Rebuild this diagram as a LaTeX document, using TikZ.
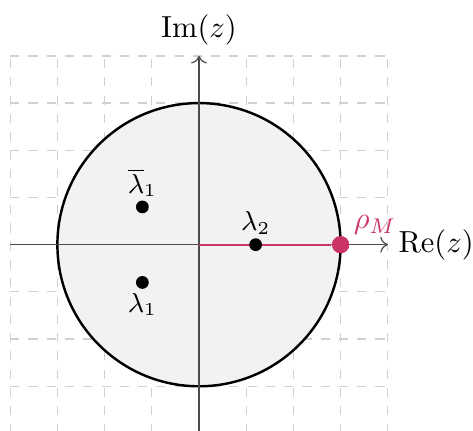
\documentclass[tikz,border=0pt]{standalone}
\usepackage{amsmath}
\usepackage{tikz}
\usetikzlibrary{arrows.meta,positioning}
\definecolor{rhored}{RGB}{204,51,102}

\begin{document}
\begin{tikzpicture}[x=0.545cm,y=0.545cm,
  gridline/.style={draw=black!18,dashed,thin},
  axis/.style={->,draw=black!70},
  disk/.style={draw=black,thick,fill=black!5},
  dot/.style={circle,fill=black,inner sep=0pt,minimum size=4.2pt},
  rhodot/.style={circle,fill=rhored,inner sep=0pt,minimum size=5.6pt},
  eig/.style={font=\small,inner sep=1pt}
]
\useasboundingbox (-4.216,-3.947) rectangle (5.805,5.184);

% grid and unit disk
\draw[gridline,step=0.545cm] (-4,-4) grid (4,4);
\draw[disk] (0,0) circle (3);

% axes
\coordinate (O)    at (0,0);
\coordinate (xmin) at (-4,0);
\coordinate (xmax) at (4,0);
\coordinate (ymin) at (0,-4);
\coordinate (ymax) at (0,4);
\draw[axis] (xmin) -- (xmax);
\draw[axis] (ymin) -- (ymax);
\node[right] (relabel) at (xmax) {$\mathrm{Re}(z)$};
\node[above] (imlabel) at (ymax) {$\mathrm{Im}(z)$};

% eigenvalues
\node[rhodot] (rho) at (3,0) {};
\draw[rhored,semithick] (O) -- (rho);
\node[rhodot] at (rho) {};
\node[inner sep=1pt,text=rhored,above right=0pt and 1pt of rho] (rholabel) {$\rho_M$};

\node[dot] (lbar) at (-1.2,0.8)  {};
\node[dot] (l1)   at (-1.2,-0.8) {};
\node[dot] (l2)   at (1.2,0)     {};
\node[eig,above=0pt of lbar] (lbarlabel) {$\overline{\lambda}_1$};
\node[eig,below=0pt of l1]   (l1label)   {$\lambda_1$};
\node[eig,above=0pt of l2]   (l2label)   {$\lambda_2$};

\end{tikzpicture}
\end{document}
